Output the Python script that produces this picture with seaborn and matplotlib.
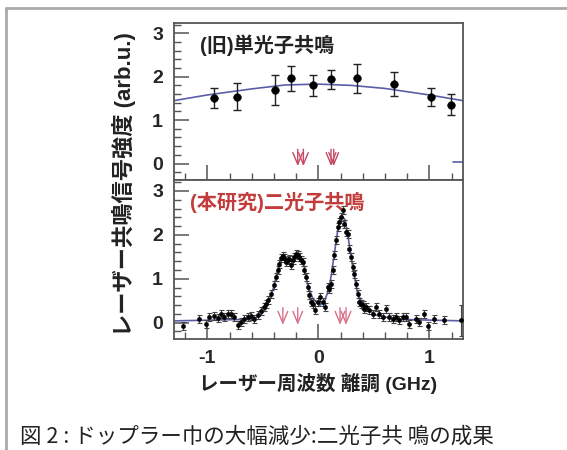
import numpy as np
import pandas as pd
import seaborn as sns
import matplotlib.pyplot as plt
from matplotlib.lines import Line2D
from matplotlib.ticker import MultipleLocator

# top panel: old single-photon resonance
TOP_X = [-0.937, -0.732, -0.394, -0.246, -0.045, 0.114, 0.349, 0.678, 1.018, 1.198]
TOP_Y = [1.52, 1.54, 1.69, 1.96, 1.80, 1.94, 1.96, 1.84, 1.53, 1.36]
TOP_ERR = [0.23, 0.31, 0.34, 0.29, 0.24, 0.22, 0.33, 0.28, 0.20, 0.24]
TOP_FIT_X = [-1.3, -1.0, -0.6, -0.3, 0.0, 0.3, 0.6, 1.0, 1.3]
TOP_FIT_Y = [1.45, 1.58, 1.72, 1.81, 1.83, 1.80, 1.73, 1.58, 1.45]
TOP_STUB_X = [1.21, 1.3]
TOP_STUB_Y = [0.03, 0.03]
TOP_ARROWS = [-0.186, -0.135, 0.114, 0.138]

# bottom panel: two-photon resonance (this work)
BOT_X = [-1.222, -1.078, -1.012, -0.982, -0.937, -0.907, -0.877, -0.847, -0.817,
         -0.787, -0.757, -0.727, -0.697, -0.667, -0.637, -0.607, -0.577, -0.547,
         -0.516, -0.486, -0.471, -0.456, -0.426, -0.396, -0.381, -0.366, -0.351,
         -0.336, -0.321, -0.306, -0.291, -0.276, -0.261, -0.246, -0.231, -0.216,
         -0.201, -0.186, -0.171, -0.156, -0.141, -0.126, -0.111, -0.096, -0.081,
         -0.066, -0.051, -0.030, -0.006, 0.015, 0.039, 0.060, 0.084, 0.099, 0.114,
         0.129, 0.144, 0.159, 0.174, 0.189, 0.204, 0.219, 0.234, 0.249, 0.264,
         0.279, 0.294, 0.309, 0.324, 0.339, 0.354, 0.369, 0.384, 0.399, 0.414,
         0.429, 0.459, 0.489, 0.520, 0.550, 0.580, 0.610, 0.640, 0.670, 0.700,
         0.730, 0.760, 0.790, 0.820, 0.880, 0.910, 0.955, 0.985, 1.045, 1.135, 1.285]
BOT_Y = [-0.077, 0.075, -0.023, 0.128, 0.151, 0.105, 0.204, 0.128, 0.204,
         0.189, 0.128, -0.046, 0.014, 0.075, 0.128, 0.144, 0.090, 0.166,
         0.265, 0.356, 0.432, 0.508, 0.660, 0.850, 1.039, 1.191, 1.343,
         1.480, 1.510, 1.480, 1.381, 1.419, 1.457, 1.305, 1.419, 1.495,
         1.571, 1.533, 1.495, 1.419, 1.381, 1.191, 1.039, 0.812, 0.622,
         0.470, 0.432, 0.280, 0.470, 0.584, 0.470, 0.356, 0.812, 0.774, 0.888,
         1.191, 1.533, 1.875, 2.178, 2.292, 2.406, 2.558, 2.254, 2.064, 2.027,
         1.685, 1.495, 1.267, 1.115, 0.888, 0.660, 0.470, 0.432, 0.394, 0.318,
         0.356, 0.280, 0.204, 0.356, 0.204, 0.128, 0.318, 0.128, 0.090, 0.128,
         0.052, 0.128, 0.128, -0.023, 0.090, 0.014, 0.189, -0.077, 0.090, 0.068, 0.052]
BOT_FIT_X = [-1.3, -0.62, -0.53, -0.47, -0.41, -0.367, -0.336, -0.29, -0.246, -0.2,
             -0.156, -0.126, -0.096, -0.05, 0.01, 0.054, 0.1, 0.144, 0.174, 0.213,
             0.243, 0.273, 0.31, 0.354, 0.414, 0.52, 0.7, 1.3]
BOT_FIT_Y = [0.04, 0.075, 0.14, 0.32, 0.74, 1.19, 1.46, 1.48, 1.43, 1.48,
             1.48, 1.27, 0.85, 0.55, 0.39, 0.47, 0.81, 1.57, 2.10, 2.44,
             2.33, 1.87, 1.27, 0.66, 0.36, 0.17, 0.075, 0.04]
BOT_ARROWS = [-0.32, -0.186, 0.195, 0.249]

YTICKS = [0, 1, 2, 3]
XTICKS = [-1, 0, 1]

sns.set_theme(style="ticks")
plt.rcParams["font.family"] = ["Liberation Sans", "Noto Sans CJK JP"]
plt.rcParams["axes.unicode_minus"] = False

FIT_COLOR = "#5b5ea6"
SPINE = "#555555"

fig = plt.figure(figsize=(5.67, 4.5), dpi=100)
ax_top = fig.add_axes([0.307, 0.6, 0.509, 0.350])
ax_bot = fig.add_axes([0.307, 0.246, 0.509, 0.354], sharex=ax_top)

top_df = pd.DataFrame({"x": TOP_X, "y": TOP_Y})
bot_df = pd.DataFrame({"x": BOT_X, "y": BOT_Y})
bot_err = [0.09] * (len(BOT_X) - 1) + [0.35]

# fits
sns.lineplot(x=TOP_FIT_X, y=TOP_FIT_Y, ax=ax_top, color=FIT_COLOR, linewidth=1.2)
sns.lineplot(x=TOP_STUB_X, y=TOP_STUB_Y, ax=ax_top, color=FIT_COLOR, linewidth=1.2)
sns.lineplot(x=BOT_FIT_X, y=BOT_FIT_Y, ax=ax_bot, color=FIT_COLOR, linewidth=1.2)

# data with error bars
ax_top.errorbar(TOP_X, TOP_Y, yerr=TOP_ERR, fmt="none", ecolor="#222222",
                elinewidth=1.0, capsize=3, capthick=1.0)
sns.scatterplot(data=top_df, x="x", y="y", ax=ax_top, color="black", s=30,
                edgecolor="black", zorder=4)
ax_bot.errorbar(BOT_X, BOT_Y, yerr=bot_err, fmt="none", ecolor="#444444",
                elinewidth=0.8, capsize=1.8, capthick=0.8)
sns.scatterplot(data=bot_df, x="x", y="y", ax=ax_bot, color="black", s=10,
                edgecolor="black", zorder=4)

# resonance markers
arrow_style = "->,head_length=0.6,head_width=0.25"
for xa in TOP_ARROWS:
    ax_top.annotate("", xy=(xa, -0.06), xytext=(xa, 0.33),
                    arrowprops=dict(arrowstyle=arrow_style, color="#c44a66",
                                    lw=1.0, mutation_scale=14, shrinkA=0, shrinkB=0))
for xa in BOT_ARROWS:
    ax_bot.annotate("", xy=(xa, -0.05), xytext=(xa, 0.34),
                    arrowprops=dict(arrowstyle=arrow_style, color="#d87088",
                                    lw=1.0, mutation_scale=14, shrinkA=0, shrinkB=0))

for ax in (ax_top, ax_bot):
    ax.set_xlim(-1.3, 1.3)
    ax.set_ylim(-0.38, 3.25)
    ax.set_yticks(YTICKS)
    ax.yaxis.set_minor_locator(MultipleLocator(0.2))
    ax.xaxis.set_minor_locator(MultipleLocator(0.2))
    ax.set_xlabel("")
    ax.set_ylabel("")
    for sp in ax.spines.values():
        sp.set_visible(True)
        sp.set_color(SPINE)
        sp.set_linewidth(1.3)
    ax.tick_params(which="major", direction="in", length=11, width=1.1,
                   color=SPINE, labelsize=14, pad=8)
    ax.tick_params(which="minor", direction="in", length=5, width=1.0,
                   color=SPINE)
    for lab in ax.get_yticklabels():
        lab.set_fontweight("bold")

ax_top.set_xticks(XTICKS)
ax_top.tick_params(labelbottom=False)
for lab in ax_bot.get_xticklabels():
    lab.set_fontweight("bold")

ax_top.text(0.09, 0.856, "(旧)単光子共鳴", transform=ax_top.transAxes,
            fontsize=14.5, fontweight="bold", color="#222222", va="center")
ax_bot.text(0.055, 0.856, "(本研究)二光子共鳴", transform=ax_bot.transAxes,
            fontsize=14.5, fontweight="bold", color="#c43b3b", va="center")

fig.text(0.218, 0.59, "レーザー共鳴信号強度 (arb.u.)", rotation=90,
         ha="center", va="center", fontsize=16, fontweight="bold", color="#222222")
fig.text(0.561, 0.148, "レーザー周波数 離調 (GHz)", ha="center", va="center",
         fontsize=14, fontweight="bold", color="#222222")
fig.text(0.035, 0.03, "図 2 : ドップラー巾の大幅減少:二光子共 鳴の成果",
         ha="left", va="center", fontsize=15.5, color="#222222",
         family=["Noto Sans CJK JP", "DejaVu Sans"])

# outer frame (top and left edges)
fig.add_artist(Line2D([0.011, 0.011], [0.0, 0.982], color="#aaaaaa", linewidth=2.0))
fig.add_artist(Line2D([0.011, 1.0], [0.982, 0.982], color="#aaaaaa", linewidth=2.0))

fig.savefig("out.png", dpi=100)
